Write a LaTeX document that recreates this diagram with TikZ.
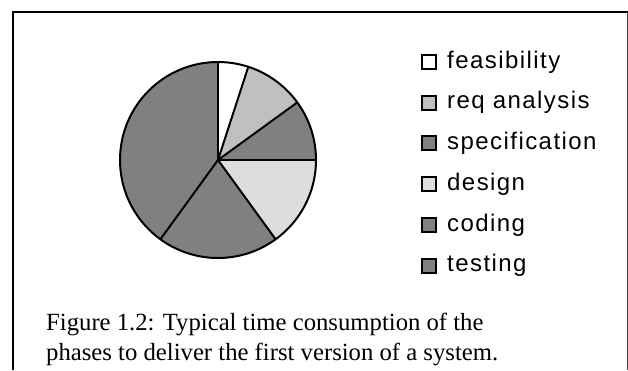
\documentclass[tikz,border=0pt]{standalone}
\usepackage{fontspec}
\setmainfont{Liberation Serif}
\newfontfamily\legendfont[LetterSpace=6]{Liberation Sans}
\usetikzlibrary{positioning}
\definecolor{slicedark}{HTML}{808080}
\definecolor{slicemid}{HTML}{C0C0C0}
\definecolor{slicelight}{HTML}{DDDDDD}

\begin{document}
\begin{tikzpicture}[
  x=1pt, y=-1pt,
  slice/.style={draw, line width=2pt, line join=round},
  keybox/.style={draw, line width=2pt, minimum size=14pt, inner sep=0pt},
  keytext/.style={font=\fontsize{24}{26}\legendfont, inner sep=0pt, anchor=west},
  caption/.style={font=\fontsize{24.7}{28}\selectfont, inner sep=0pt, anchor=base west}
]
\useasboundingbox (0,0) rectangle (628,370);
% frame, open at the bottom
\draw[line width=2pt] (12.5,370) -- (12.5,11.5) -- (628,11.5);
\draw[line width=1pt, black!75] (627.3,11.5) -- (627.3,370);

% pie: start angle / end angle / fill
\coordinate (c) at (218,160);
\foreach \a/\b/\col in {90/72/white, 72/36/slicemid, 36/0/slicedark,
    0/-54/slicelight, -54/-126/slicedark, -126/-270/slicedark}{
  \fill[\col] (c) -- ++(\a:98 and -98) arc[start angle=\a, end angle=\b, x radius=98, y radius=-98] -- cycle;
}
\foreach \a in {90,72,36,0,-54,-126}{
  \draw[line width=2pt] (c) -- ++(\a:98 and -98);
}
\draw[line width=2pt] (c) circle[radius=98];

% legend
\foreach \name/\col [count=\i from 0] in {feasibility/white, req analysis/slicemid,
    specification/slicedark, design/slicelight, coding/slicedark, testing/slicedark}{
  \node[keybox, fill=\col] (key\i) at (429, 62+40.7*\i) {};
  \node[keytext, right=10pt of key\i] (lab\i) {\name};
}

% caption
\node[caption] (cap1) at (46,330) {Figure 1.2: Typical time consumption of the};
\node[caption] (cap2) at (46,360) {phases to deliver the first version of a system.};
\end{tikzpicture}
\end{document}
